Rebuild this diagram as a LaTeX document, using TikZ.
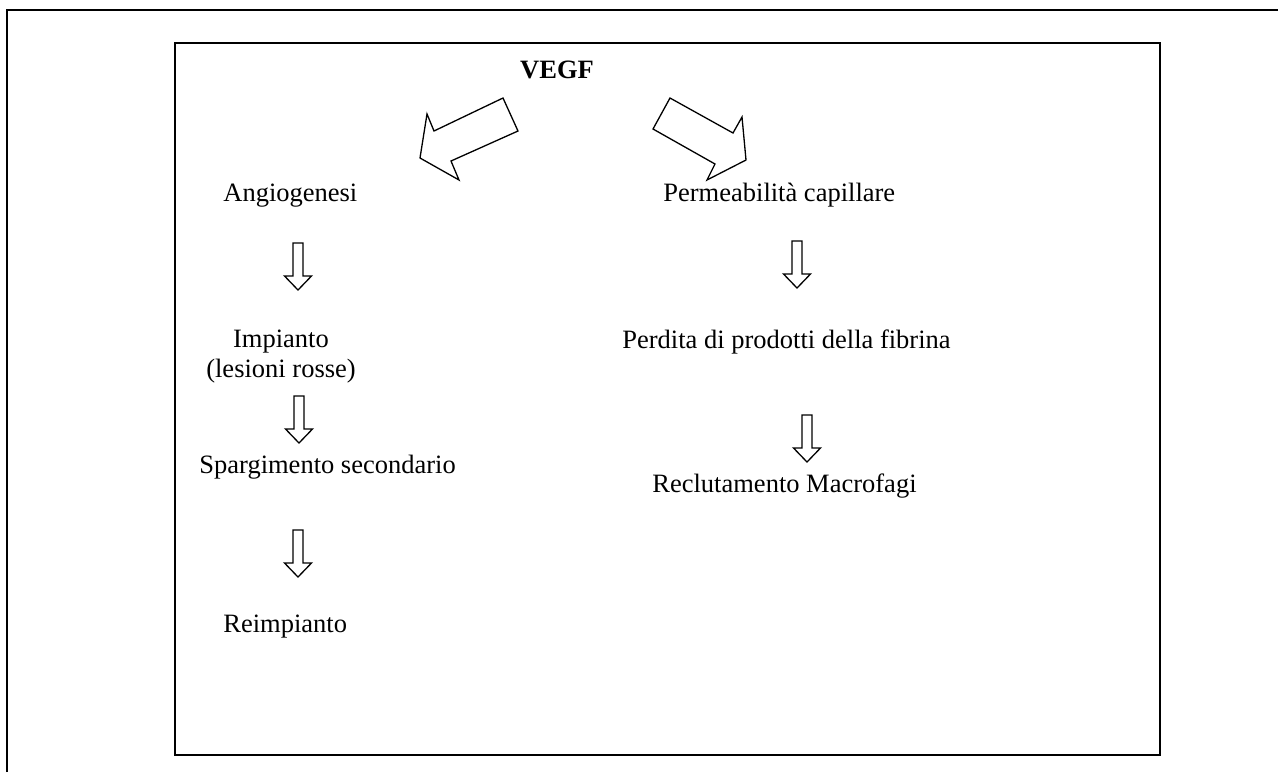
\documentclass[tikz,border=0pt]{standalone}
\usepackage{fontspec}
\setmainfont{Liberation Serif}
\usetikzlibrary{positioning}

\tikzset{
    txt/.style={inner sep=0pt, font=\fontsize{13.25}{15}\selectfont},
    boxline/.style={line width=1pt},
    hollow/.style={draw, line width=0.65pt, line join=miter},
    downarr/.pic={\draw[hollow] (-5,0) -- (5,0) -- (5,33) -- (13.5,33) -- (0,47) -- (-13.5,33) -- (-5,33) -- cycle;}
}

\begin{document}
\begin{tikzpicture}[x=0.5pt, y=-0.5pt]
    \useasboundingbox (0,0) rectangle (1278,772);
    % frames
    \draw[boxline] (7,772) -- (7,10) -- (1278,10);
    \draw[boxline] (175,43) rectangle (1160,755);

    \node[txt, anchor=base, font=\fontsize{13.25}{15}\selectfont\bfseries] (vegf) at (557,78) {VEGF};
    \node[txt, anchor=base west] (angio) at (223,201) {Angiogenesi};
    \node[txt, anchor=base west] (perm) at (663,201) {Permeabilità capillare};
    \node[txt, anchor=base, align=center] (impianto) at (281,377) {Impianto\\(lesioni rosse)};
    \node[txt, anchor=base west] (sparg) at (199,473) {Spargimento secondario};
    \node[txt, anchor=base west] (reimp) at (223,632) {Reimpianto};
    \node[txt, anchor=base west] (perdita) at (622,348) {Perdita di prodotti della fibrina};
    \node[txt, anchor=base west] (reclut) at (652,492) {Reclutamento Macrofagi};

    % big arrows from VEGF
    \draw[hollow] (503,98) -- (434,131) -- (427,114) -- (420,158) -- (459,180) -- (451,161) -- (518,131) -- cycle;
    \draw[hollow] (670,98) -- (733,133) -- (742,117) -- (746,160) -- (707,180) -- (715,164) -- (653,129) -- cycle;

    % small arrows
    \pic at (298,243) {downarr};
    \pic at (299,396) {downarr};
    \pic at (298,530) {downarr};
    \pic at (797,241) {downarr};
    \pic at (807,415) {downarr};
\end{tikzpicture}
\end{document}
